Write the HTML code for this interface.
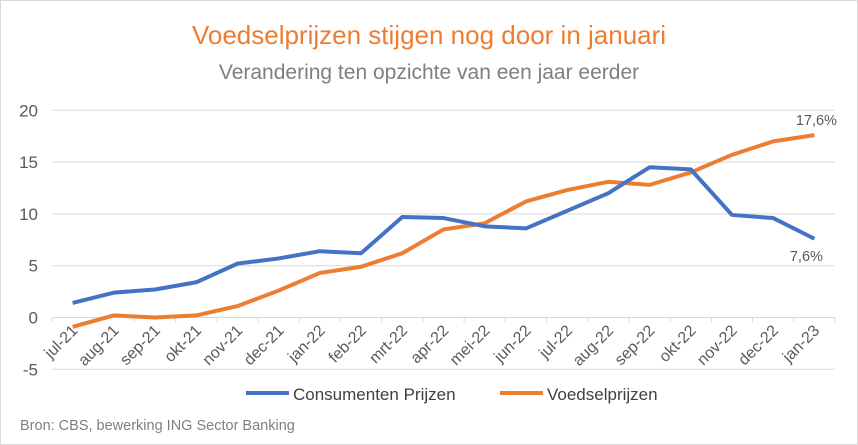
<!DOCTYPE html>
<html><head><meta charset="utf-8"><style>
body{margin:0;background:#fff}
svg{display:block;font-family:"Liberation Sans",sans-serif}
</style></head><body>
<svg width="858" height="445" id="c">
<rect x="0.5" y="0.5" width="857" height="444" fill="#fff" stroke="#d9d9d9"/>
<text x="429" y="44" text-anchor="middle" font-size="26" fill="#ED7D31">Voedselprijzen stijgen nog door in januari</text>
<text x="429" y="79" text-anchor="middle" font-size="21" fill="#7f7f7f">Verandering ten opzichte van een jaar eerder</text>
<g id="grid"></g><g id="xl"></g><g id="series"></g>
<line x1="246" y1="393" x2="289" y2="393" stroke="#4472C4" stroke-width="4"/>
<text x="293" y="400" font-size="17" fill="#404040">Consumenten Prijzen</text>
<line x1="500" y1="393" x2="543" y2="393" stroke="#ED7D31" stroke-width="4"/>
<text x="547" y="400" font-size="17" fill="#404040">Voedselprijzen</text>
<text x="20" y="430" font-size="14.5" fill="#7f7f7f">Bron: CBS, bewerking ING Sector Banking</text>
</svg>
<script>
const categories=["jul-21","aug-21","sep-21","okt-21","nov-21","dec-21","jan-22","feb-22","mrt-22","apr-22","mei-22","jun-22","jul-22","aug-22","sep-22","okt-22","nov-22","dec-22","jan-23"];
const cpiValues=[1.4,2.4,2.7,3.4,5.2,5.7,6.4,6.2,9.7,9.6,8.8,8.6,10.3,12.0,14.5,14.3,9.9,9.6,7.6];
const foodValues=[-0.9,0.2,0.0,0.2,1.1,2.6,4.3,4.9,6.2,8.5,9.1,11.2,12.3,13.1,12.8,14.0,15.7,17.0,17.6];
const yTicks=[-5,0,5,10,15,20];
const NS="http://www.w3.org/2000/svg";
const L=52,R=835,Y0=317.5,PER=10.36;
const bw=(R-L)/categories.length;
const x=i=>L+bw*(i+0.5);
const y=v=>Y0-v*PER;
function mk(t,a,p){const e=document.createElementNS(NS,t);for(const k in a)e.setAttribute(k,a[k]);p.appendChild(e);return e;}
const g=document.getElementById('grid');
yTicks.forEach(v=>{
 const l=mk('line',{x1:L,x2:R,y1:y(v),y2:y(v),stroke:'#d9d9d9','stroke-width':1},g);
 
 
 const t=mk('text',{x:38,y:y(v)+6,'text-anchor':'end','font-size':17,fill:'#595959'},g);
 t.textContent=v;
 
 
});
const xl=document.getElementById('xl');
categories.forEach((c,i)=>{
 const tk=mk('line',{x1:L+bw*i,x2:L+bw*i,y1:Y0,y2:Y0+5,stroke:'#d9d9d9'},xl);
 
 
 const t=mk('text',{'text-anchor':'end','font-size':16,fill:'#595959',transform:`translate(${x(i)+6},${Y0+14}) rotate(-45)`},xl);
 t.textContent=c;
 
 
});
const tkl=mk('line',{x1:R,x2:R,y1:Y0,y2:Y0+5,stroke:'#d9d9d9'},xl);


const s=document.getElementById('series');
[[foodValues,'#ED7D31','line-voedselprijzen'],[cpiValues,'#4472C4','line-consumenten-prijzen']].forEach(([d,col,n])=>{
 const p=mk('polyline',{points:d.map((v,i)=>x(i)+','+y(v)).join(' '),fill:'none',stroke:col,'stroke-width':4,'stroke-linejoin':'round'},s);
 
 
});
const last=categories.length-1;
const a=mk('text',{x:x(last)+2,y:y(foodValues[last])-10,'text-anchor':'middle','font-size':14.5,fill:'#595959'},s);
a.textContent=foodValues[last].toFixed(1).replace('.',',')+'%';


const b=mk('text',{x:x(last)-8,y:y(cpiValues[last])+22,'text-anchor':'middle','font-size':14.5,fill:'#595959'},s);
b.textContent=cpiValues[last].toFixed(1).replace('.',',')+'%';


</script>
</body></html>
